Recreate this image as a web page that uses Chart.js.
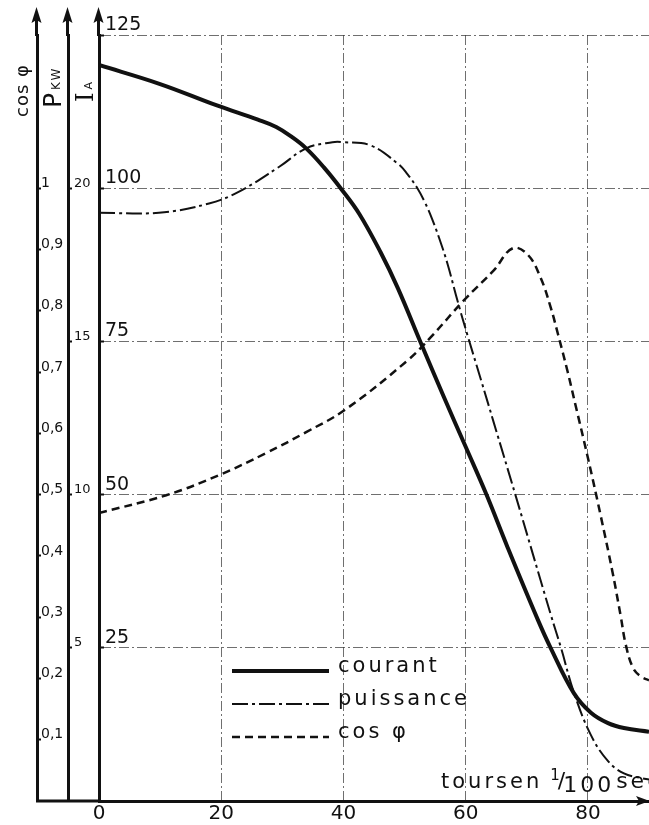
<!DOCTYPE html>
<html>
<head>
<meta charset="utf-8">
<script src="https://cdn.jsdelivr.net/npm/chart.js@4.4.1/dist/chart.umd.min.js"></script>
<style>
  html, body { margin: 0; padding: 0; background: #fff; }
  #wrap { width: 649px; height: 825px; position: relative; }
</style>
</head>
<body>
<div id="wrap"><canvas id="chart"></canvas></div>
<script>
// tick values of the four scales
const xTicks = [0, 20, 40, 60, 80];
const iTicks = [25, 50, 75, 100, 125];
const pTicks = [5, 10, 15, 20];
const cosTicks = [0.1, 0.2, 0.3, 0.4, 0.5, 0.6, 0.7, 0.8, 0.9, 1];

// courant (A) vs tours en 1/100 sec
const courantX = [0, 10, 19.3, 26, 29, 31.5, 33.9, 36.8, 39.7, 42.6, 46.1, 48.9, 52.6, 56.4, 60, 63.4, 66.9, 71.8, 73.9, 77.7, 80.5, 83.3, 85.9, 90];
const courantI = [120.1, 117, 113.5, 111.2, 110, 108.4, 106.5, 103.4, 99.8, 95.8, 89.5, 83.7, 74.9, 66.0, 57.8, 50.0, 41.3, 29.6, 25.0, 17.6, 14.4, 12.7, 11.9, 11.3];

// puissance (kW)
const puissanceX = [0, 9.8, 18, 23, 29.5, 33.9, 38.2, 40, 44.4, 48.9, 50.5, 52.1, 53.3, 54.5, 55.7, 57, 58.7, 60.3, 62.5, 64.6, 68.2, 73.9, 75.6, 77.7, 80.5, 83.3, 85.9, 88.7, 90];
const puissanceP = [19.2, 19.2, 19.5, 19.9, 20.7, 21.3, 21.5, 21.5, 21.4, 20.8, 20.45, 20.0, 19.55, 19.0, 18.35, 17.55, 16.3, 15.2, 13.75, 12.35, 9.95, 6.1, 5.0, 3.55, 2.15, 1.3, 0.9, 0.75, 0.7];

// cos phi
const cosX = [0, 11, 19.7, 27.4, 33.9, 40.2, 50.5, 54.3, 59.7, 64.6, 67.7, 70.2, 72.3, 73.9, 75.1, 76.7, 78, 80, 82, 84, 85.4, 86.2, 87.4, 88.7, 90];
const cosV = [0.47, 0.499, 0.532, 0.568, 0.602, 0.638, 0.719, 0.757, 0.817, 0.866, 0.902, 0.891, 0.853, 0.806, 0.762, 0.700, 0.645, 0.560, 0.470, 0.375, 0.300, 0.255, 0.217, 0.203, 0.197];

const ink = '#111';
const gridColor = 'rgba(50,50,50,0.7)';
const gridDash = [10, 3, 2, 3];
const family = '"DejaVu Sans", sans-serif';

const pts = (xs, ys) => xs.map((x, i) => ({ x, y: ys[i] }));
const setTicks = values => scale => { scale.ticks = values.map(v => ({ value: v })); };
const fixWidth = w => scale => { scale.width = w; };

// arrows, x axis extension, axis titles, legend, x title
const decor = {
  id: 'decor',
  afterDraw(chart) {
    const { ctx, chartArea, scales } = chart;
    ctx.save();
    ctx.fillStyle = ink;
    ctx.strokeStyle = ink;
    ctx.lineWidth = 3;

    ['yCos', 'yP', 'yI'].forEach(id => {
      const s = scales[id];
      const x = Math.round(s.right) - 0.5;
      ctx.beginPath(); ctx.moveTo(x, s.top + 1); ctx.lineTo(x, 18); ctx.stroke();
      ctx.beginPath(); ctx.moveTo(x, 7); ctx.lineTo(x - 5, 23); ctx.lineTo(x, 20); ctx.lineTo(x + 5, 23); ctx.closePath(); ctx.fill();
    });

    const yx = scales.x.top;
    ctx.beginPath(); ctx.moveTo(scales.yCos.right - 1, yx); ctx.lineTo(chartArea.left, yx); ctx.stroke();
    ctx.beginPath(); ctx.moveTo(650, yx); ctx.lineTo(636, yx - 5); ctx.lineTo(639, yx); ctx.lineTo(636, yx + 5); ctx.closePath(); ctx.fill();

    const vText = (str, x, y, font, spacing) => {
      ctx.save();
      ctx.translate(x, y);
      ctx.rotate(-Math.PI / 2);
      ctx.font = font;
      ctx.letterSpacing = (spacing || 0) + 'px';
      ctx.textAlign = 'left';
      ctx.textBaseline = 'alphabetic';
      ctx.fillText(str, 0, 0);
      const w = ctx.measureText(str).width;
      ctx.restore();
      return w;
    };
    vText('cos φ', 28, 117, '18px ' + family, 1);
    const pw = vText('P', 61, 108, '25px ' + family);
    vText('KW', 60, 108 - pw - 3, '12px ' + family, 2);
    const iw = vText('I', 93, 102, '24px "DejaVu Serif", serif');
    vText('A', 92, 102 - iw - 3, '11px ' + family);

    // legend
    ctx.font = '21px ' + family;
    ctx.letterSpacing = '3px';
    ctx.textAlign = 'left';
    ctx.textBaseline = 'middle';
    chart.data.datasets.forEach((ds, i) => {
      const y = 671 + i * 33;
      ctx.save();
      ctx.lineWidth = ds.borderWidth;
      ctx.setLineDash(ds.borderDash || []);
      ctx.beginPath(); ctx.moveTo(232, y); ctx.lineTo(329, y); ctx.stroke();
      ctx.restore();
      ctx.fillText(ds.label, 338, y - 4);
    });

    // x title
    ctx.textBaseline = 'alphabetic';
    let tx = 441;
    const base = 788;
    const piece = (str, size, dy, gap) => {
      ctx.font = size + 'px ' + family;
      ctx.fillText(str, tx, base + dy);
      tx += ctx.measureText(str).width + (gap || 0);
    };
    piece('toursen', 21, 0, 8);
    ctx.letterSpacing = '0px';
    piece('1', 15, -8, -2);
    piece('/', 22, 0, -2);
    ctx.letterSpacing = '3px';
    piece('100', 22, 4, 2);
    piece('sec', 22, 0);
    ctx.restore();
  }
};

const lineStyle = { borderColor: ink, pointRadius: 0, fill: false, tension: 0.4 };

new Chart(document.getElementById('chart'), {
  type: 'line',
  data: {
    datasets: [
      { ...lineStyle, label: 'courant', data: pts(courantX, courantI), yAxisID: 'yI', borderWidth: 4 },
      { ...lineStyle, label: 'puissance', data: pts(puissanceX, puissanceP), yAxisID: 'yP', borderWidth: 2, borderDash: [16, 4, 3, 4] },
      { ...lineStyle, label: 'cos φ', data: pts(cosX, cosV), yAxisID: 'yCos', borderWidth: 2.5, borderDash: [8, 5] }
    ]
  },
  options: {
    responsive: true,
    maintainAspectRatio: false,
    animation: false,
    layout: { padding: { top: 35, right: 0, left: 0, bottom: 0 } },
    plugins: { legend: { display: false }, tooltip: { enabled: false } },
    scales: {
      x: {
        type: 'linear', min: 0, max: 90,
        afterBuildTicks: setTicks(xTicks),
        afterFit: s => { s.height = 24; },
        grid: { color: gridColor, lineWidth: 1, drawTicks: false },
        border: { color: ink, width: 3, dash: gridDash },
        ticks: { color: ink, font: { family, size: 20 }, padding: 1, callback: v => String(v) }
      },
      yI: {
        type: 'linear', position: 'left', weight: 1, min: 0, max: 125,
        afterBuildTicks: setTicks(iTicks),
        afterFit: fixWidth(31),
        grid: { color: gridColor, lineWidth: 1, tickLength: -5, tickColor: ink, tickWidth: 2 },
        border: { color: ink, width: 3, dash: gridDash },
        ticks: { color: ink, mirror: true, padding: 6, labelOffset: -10, font: { family, size: 19 } }
      },
      yP: {
        type: 'linear', position: 'left', weight: 2, min: 0, max: 25,
        afterBuildTicks: setTicks(pTicks),
        afterFit: fixWidth(31),
        grid: { drawOnChartArea: false, tickLength: -4, tickColor: ink, tickWidth: 2 },
        border: { color: ink, width: 3 },
        ticks: { color: ink, mirror: true, padding: 6, labelOffset: -5, font: { family, size: 13 } }
      },
      yCos: {
        type: 'linear', position: 'left', weight: 3, min: 0, max: 1.25,
        afterBuildTicks: setTicks(cosTicks),
        afterFit: fixWidth(37),
        grid: { drawOnChartArea: false, tickLength: -4, tickColor: ink, tickWidth: 2 },
        border: { color: ink, width: 3 },
        ticks: {
          color: ink, mirror: true, padding: 4, labelOffset: -5, font: { family, size: 14 },
          callback: v => v === 1 ? '1' : v.toFixed(1).replace('.', ',')
        }
      }
    }
  },
  plugins: [decor]
});
</script>
</body>
</html>
